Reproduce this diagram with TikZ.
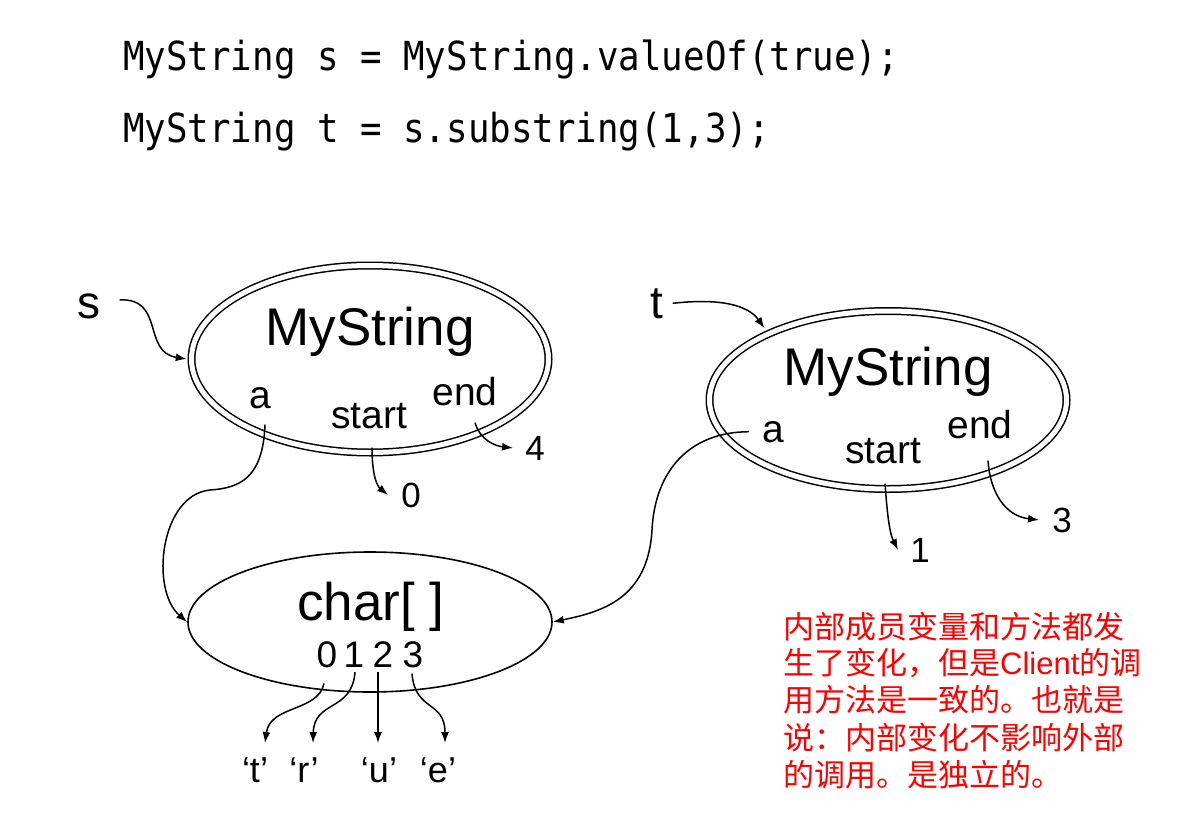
\documentclass[tikz,border=0pt]{standalone}
\usepackage{fontspec}
\usepackage{graphicx}
\setmainfont{Liberation Sans}
\newfontfamily\codefont{DejaVu Sans Mono}
\newfontfamily\cjk{Noto Sans CJK SC}
\usetikzlibrary{shapes.geometric,arrows.meta}
\begin{document}
\begin{tikzpicture}[x=1pt,y=-1pt,
  lbl/.style={inner sep=0pt, anchor=base},
  big/.style={lbl, font=\fontsize{53}{60}\selectfont},
  fld/.style={lbl, font=\fontsize{39}{44}\selectfont},
  num/.style={lbl, font=\fontsize{35}{40}\selectfont},
  dig/.style={lbl, font=\fontsize{37}{42}\selectfont},
  chr/.style={lbl, font=\fontsize{36}{40}\selectfont},
  var/.style={lbl, font=\fontsize{46}{50}\selectfont},
  code/.style={inner sep=0pt, anchor=base west, font=\fontsize{40}{44}\codefont},
  note/.style={inner sep=0pt, anchor=base west, text=red, font=\fontsize{31}{37}\cjk},
  conn/.style={line width=1.5pt, -{Latex[length=11pt,width=8pt]}},
  dbl/.style={ellipse, draw, line width=1.5pt, double, double distance=5pt, inner sep=0pt},
  sgl/.style={ellipse, draw, line width=1.6pt, inner sep=0pt},
]
\useasboundingbox (0,0) rectangle (1177,821);

% code lines
\node[code] (c1) at (123,71) {\scalebox{0.895}[1]{MyString s = MyString.valueOf(true);}};
\node[code] (c2) at (123,143) {\scalebox{0.895}[1]{MyString t = s.substring(1,3);}};

% ellipses
\node[dbl, minimum width=357pt, minimum height=187pt] (sell) at (370,359) {};
\node[dbl, minimum width=357pt, minimum height=178pt] (tell) at (888,400) {};
\node[sgl, minimum width=364pt, minimum height=140pt] (char) at (370,622) {};

% s object
\node[big] (sms) at (370,345) {MyString};
\node[fld] (sa) at (260,408) {a};
\node[fld] (sst) at (369,428) {start};
\node[fld] (sen) at (465,405) {end};
\node[num] (s0) at (411,507) {0};
\node[num] (s4) at (535,460) {4};

% t object
\node[big] (tms) at (888,385) {MyString};
\node[fld] (ta) at (773,442) {a};
\node[fld] (tst) at (883,463) {start};
\node[fld] (ten) at (980,438) {end};
\node[num] (t1) at (920,562) {1};
\node[num] (t3) at (1062,532) {3};

% variables
\node[var] (slab) at (89,318) {s};
\node[var] (tlab) at (657,318) {t};

% char array
\node[big] (chtxt) at (371,620) {char[ ]};
\node[dig] (d0) at (327,667) {0};
\node[dig] (d1) at (354,667) {1};
\node[dig] (d2) at (383,667) {2};
\node[dig] (d3) at (413,667) {3};
\node[chr] (q1) at (255,782) {‘t’};
\node[chr] (q2) at (304,782) {‘r’};
\node[chr] (q3) at (379,782) {‘u’};
\node[chr] (q4) at (438,782) {‘e’};

% note
\node[note] (n1) at (783,638) {内部成员变量和方法都发};
\node[note] (n2) at (783,674) {生了变化，但是{\normalfont Client}的调};
\node[note] (n3) at (783,711) {用方法是一致的。也就是};
\node[note] (n4) at (783,749) {说：内部变化不影响外部};
\node[note] (n5) at (783,786) {的调用。是独立的。};

% connectors
\draw[conn] ([xshift=19pt,yshift=6pt]slab.east) .. controls (165,298) and (142,352) .. ([xshift=-4pt]sell.west);
\draw[conn] ([xshift=9pt]tlab.east) .. controls (720,298) and (748,305) .. ([xshift=-6pt,yshift=4pt]tell.150);

\draw[conn] ([xshift=5pt,yshift=-16pt]sa.south) .. controls (263,478) and (240,488) .. (210,490)
   .. controls (160,495) and (150,590) .. (char.west);
\draw[conn] ([xshift=3pt,yshift=-19pt]sst.south) .. controls (372,475) and (377,486) .. ([xshift=-13pt]s0.west);
\draw[conn] ([xshift=10pt,yshift=-17pt]sen.south) .. controls (480,440) and (495,446) .. ([xshift=-12pt]s4.west);

\draw[conn] ([xshift=-13pt]ta.west) .. controls (690,432) and (655,470) .. (652,530)
   .. controls (648,600) and (600,612) .. (char.east);
\draw[conn] ([xshift=2pt,yshift=-20pt]tst.south) .. controls (887,510) and (889,532) .. ([xshift=-12pt]t1.west);
\draw[conn] ([xshift=8pt,yshift=-22pt]ten.south) .. controls (990,492) and (1005,516) .. ([xshift=-13pt]t3.west);

\draw[conn] ([xshift=-3pt,yshift=-16pt]d0.south) .. controls (318,712) and (270,705) .. ([xshift=10pt,yshift=14pt]q1.north);
\draw[conn] ([xshift=1pt,yshift=-5pt]d1.south) .. controls (352,712) and (314,700) .. ([xshift=9pt,yshift=14pt]q2.north);
\draw[conn] ([xshift=-5pt,yshift=-5pt]d2.south) -- ([xshift=-1pt,yshift=14pt]q3.north);
\draw[conn] ([xshift=-1pt,yshift=-6pt]d3.south) .. controls (415,712) and (445,700) .. ([xshift=7pt,yshift=14pt]q4.north);
\end{tikzpicture}
\end{document}
